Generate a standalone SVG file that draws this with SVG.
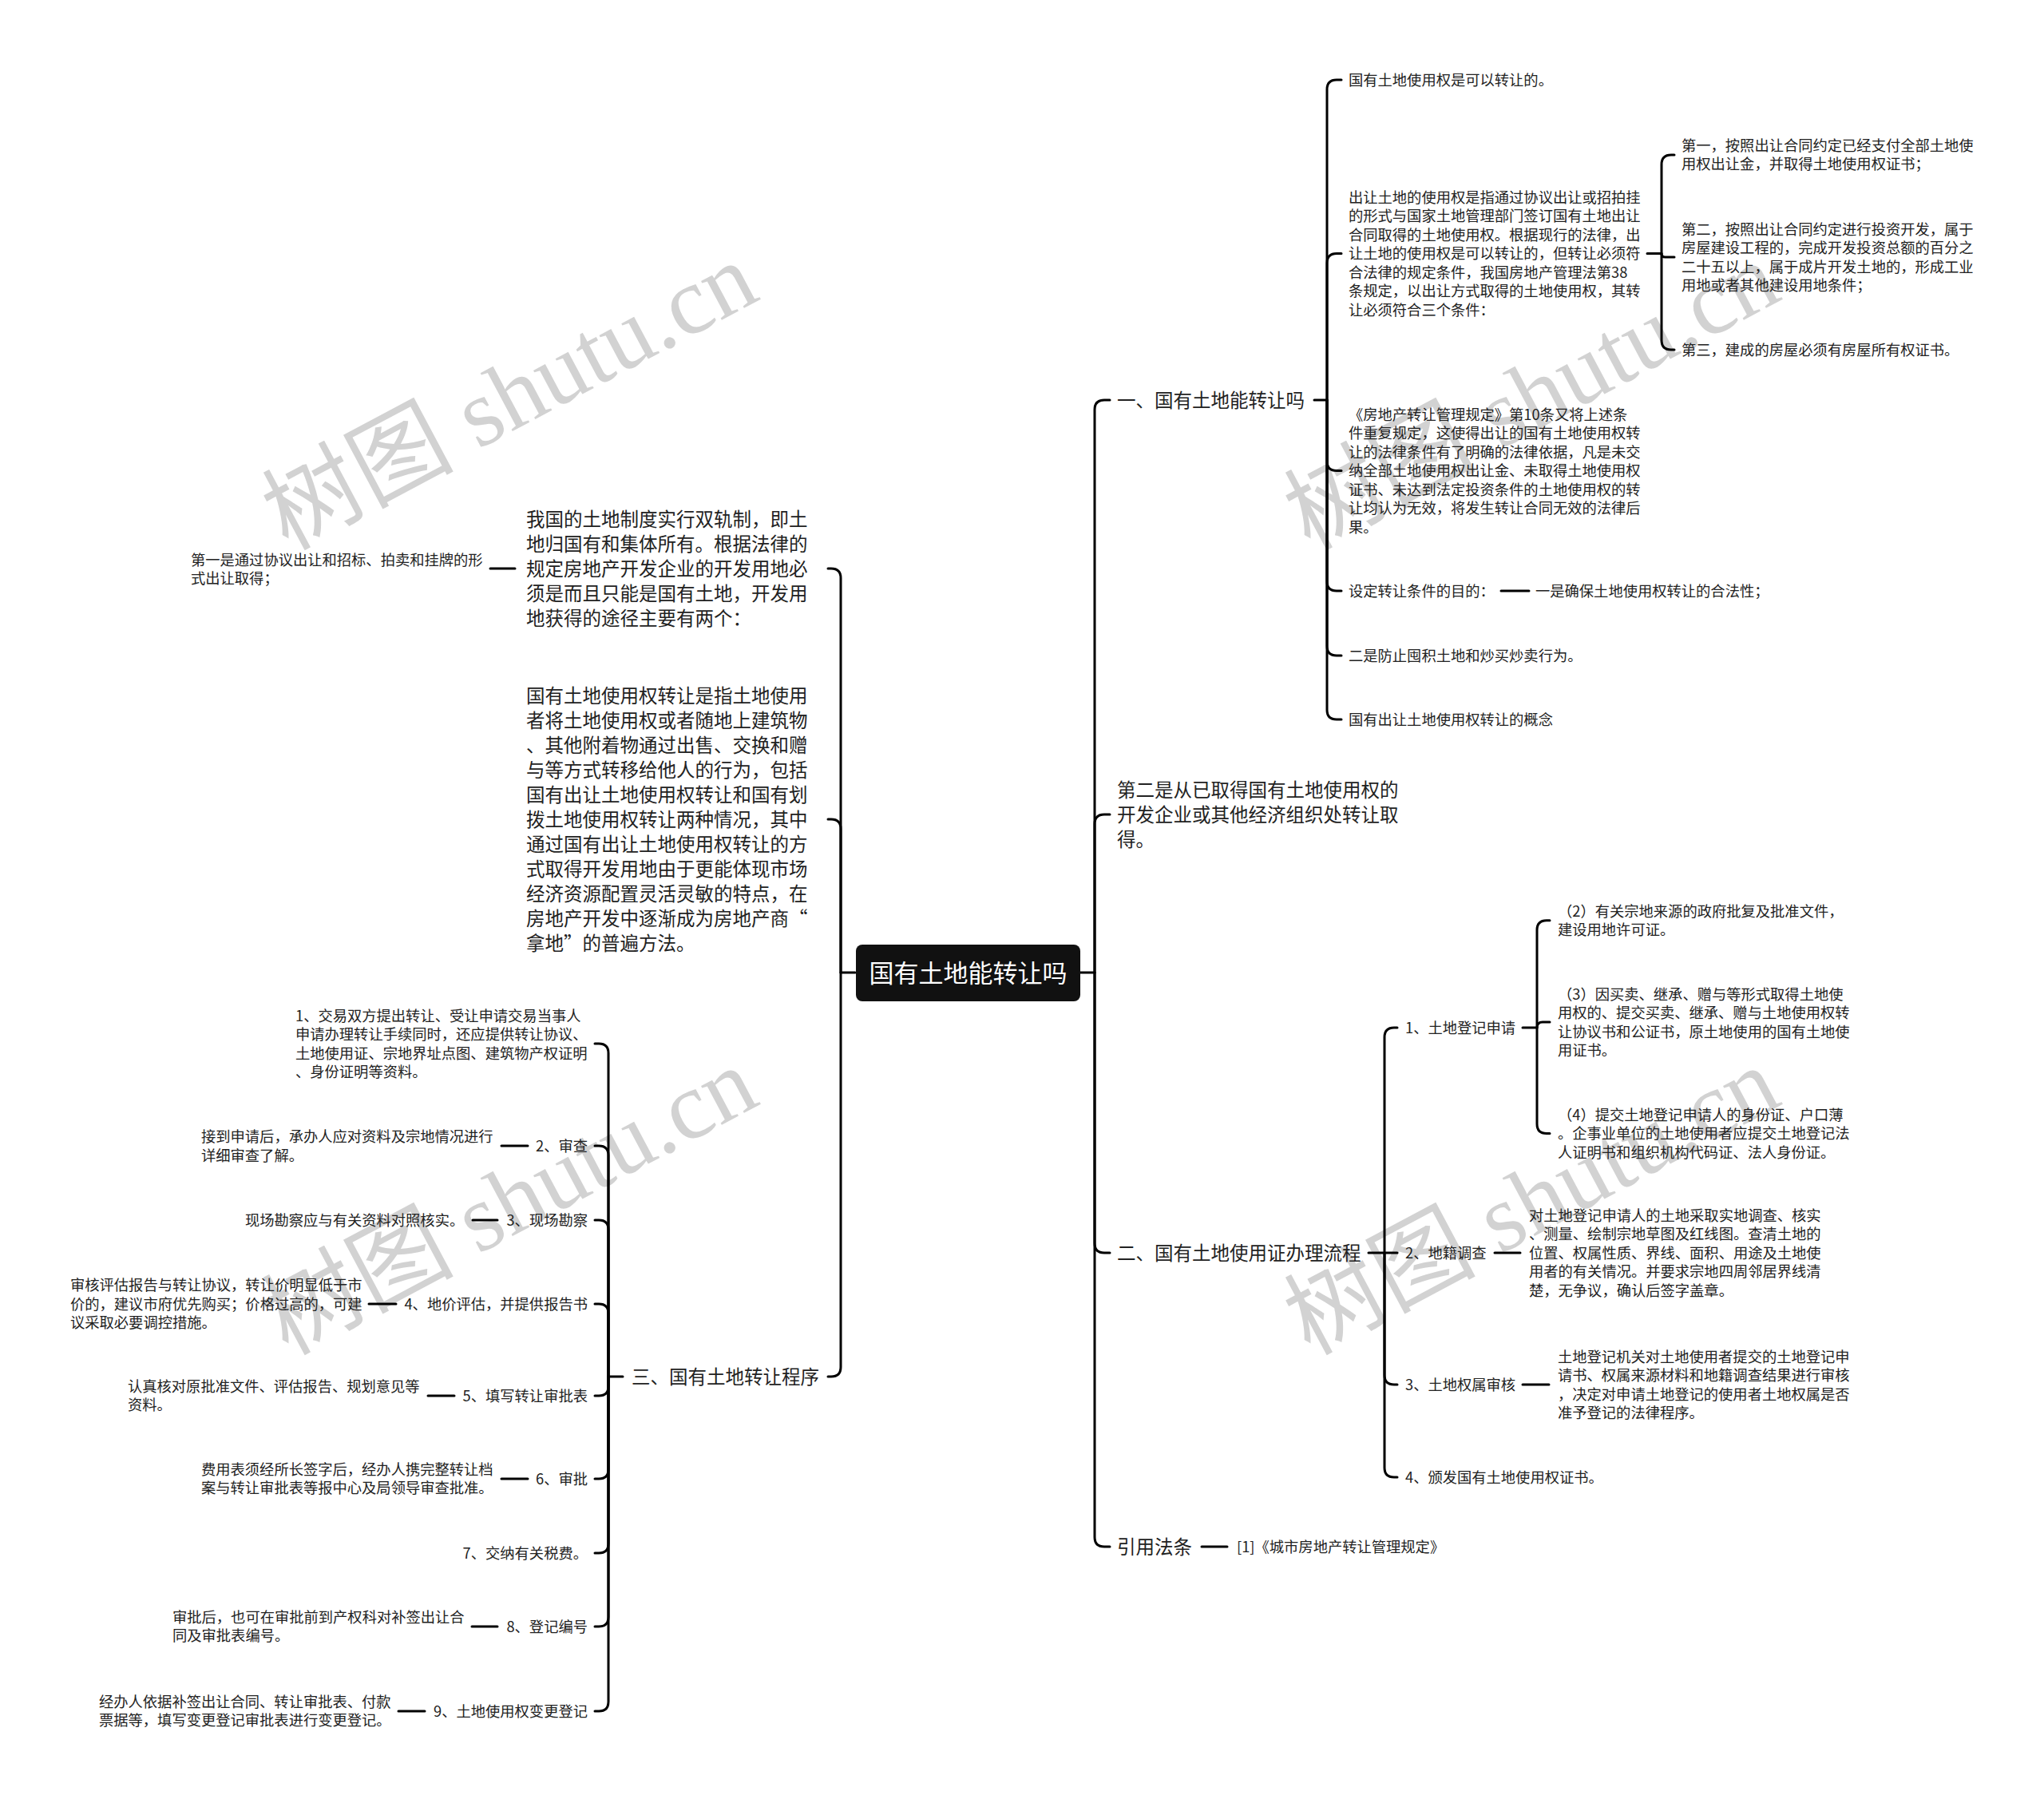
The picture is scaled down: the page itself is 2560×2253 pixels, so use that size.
<svg xmlns="http://www.w3.org/2000/svg" width="2560" height="2253" viewBox="0 0 2560 2253">
<style>
.wm{font-family:'Liberation Serif','Noto Sans CJK SC',serif;font-size:120px;fill:#d2d2d2}
.t{font-family:'Noto Sans CJK SC','Liberation Sans',sans-serif;fill:#222}
.s{font-size:18.3px}
.m{font-size:23.5px}
.r{font-size:31px;fill:#fff}
.e{text-anchor:end}
.c path,.c line{fill:none;stroke:#000;stroke-width:3;stroke-linecap:round;stroke-linejoin:round}
</style>
<rect width="2560" height="2253" fill="#fff"/>
<g id="watermarks">
<text class="wm" transform="translate(360,690) rotate(-28)">树图 shutu.cn</text>
<text class="wm" transform="translate(360,1698) rotate(-28)">树图 shutu.cn</text>
<text class="wm" transform="translate(1640,690) rotate(-28)">树图 shutu.cn</text>
<text class="wm" transform="translate(1640,1698) rotate(-28)">树图 shutu.cn</text>
</g>
<g id="connectors" class="c">
<path d="M1353,1218 H1371 V513 Q1371,501 1383,501 H1390"/>
<path d="M1371,1218 V1032 Q1371,1020 1383,1020 H1390"/>
<path d="M1371,1218 V1557 Q1371,1569 1383,1569 H1390"/>
<path d="M1371,1218 V1925 Q1371,1937 1383,1937 H1390"/>
<path d="M1646,501 H1662 V112 Q1662,100 1674,100 H1680"/>
<path d="M1662,501 V329.5 Q1662,317.5 1674,317.5 H1680"/>
<path d="M1662,501 V577.5 Q1662,589.5 1674,589.5 H1680"/>
<path d="M1662,501 V728 Q1662,740 1674,740 H1680"/>
<path d="M1662,501 V809 Q1662,821 1674,821 H1680"/>
<path d="M1662,501 V889 Q1662,901 1674,901 H1680"/>
<path d="M2063,317.5 H2081 V206 Q2081,194 2093,194 H2097"/>
<path d="M2081,317.5 Q2081,322 2085.5,322 H2097"/>
<path d="M2081,317.5 V426 Q2081,438 2093,438 H2097"/>
<path d="M1714,1569 H1734 V1299 Q1734,1287 1746,1287 H1750"/>
<path d="M1734,1569 H1750"/>
<path d="M1734,1569 V1722 Q1734,1734 1746,1734 H1750"/>
<path d="M1734,1569 V1838 Q1734,1850 1746,1850 H1750"/>
<path d="M1907,1287 H1925 V1164.75 Q1925,1152.75 1937,1152.75 H1941"/>
<path d="M1925,1287 Q1925,1280 1932,1280 H1941"/>
<path d="M1925,1287 V1407.5 Q1925,1419.5 1937,1419.5 H1941"/>
<path d="M1071,1218 H1053 V724 Q1053,712 1041,712 H1037"/>
<path d="M1053,1218 V1038 Q1053,1026 1041,1026 H1037"/>
<path d="M1053,1218 V1712 Q1053,1724 1041,1724 H1037"/>
<path d="M780,1724 H762 V1319 Q762,1307 750,1307 H745"/>
<path d="M762,1724 V1447 Q762,1435 750,1435 H745"/>
<path d="M762,1724 V1540 Q762,1528 750,1528 H745"/>
<path d="M762,1724 V1645 Q762,1633 750,1633 H745"/>
<path d="M762,1724 V1736 Q762,1748 750,1748 H745"/>
<path d="M762,1724 V1840 Q762,1852 750,1852 H745"/>
<path d="M762,1724 V1933 Q762,1945 750,1945 H745"/>
<path d="M762,1724 V2025 Q762,2037 750,2037 H745"/>
<path d="M762,1724 V2131 Q762,2143 750,2143 H745"/>
<line x1="614" y1="712" x2="645" y2="712"/>
<line x1="1880" y1="740" x2="1915" y2="740"/>
<line x1="1872" y1="1569" x2="1904" y2="1569"/>
<line x1="1907" y1="1734" x2="1940" y2="1734"/>
<line x1="1505" y1="1937" x2="1537" y2="1937"/>
<line x1="628" y1="1435" x2="661" y2="1435"/>
<line x1="592" y1="1528" x2="623" y2="1528"/>
<line x1="462" y1="1633" x2="496" y2="1633"/>
<line x1="536" y1="1748" x2="569" y2="1748"/>
<line x1="628" y1="1852" x2="661" y2="1852"/>
<line x1="591" y1="2037" x2="623" y2="2037"/>
<line x1="499" y1="2143" x2="532" y2="2143"/>
</g>
<g id="root">
<rect x="1072" y="1183" width="281" height="71" rx="8" fill="#111"/>
<text class="t r" x="1212.5" y="1229.5" text-anchor="middle">国有土地能转让吗</text>
</g>
<g id="n1"><text class="t m" x="1399" y="509.5">一、国有土地能转让吗</text></g>
<g id="n1a"><text class="t s" x="1689" y="106.5">国有土地使用权是可以转让的。</text></g>
<g id="n1b"><text class="t s">
<tspan x="1689" y="253.5">出让土地的使用权是指通过协议出让或招拍挂</tspan>
<tspan x="1689" y="277">的形式与国家土地管理部门签订国有土地出让</tspan>
<tspan x="1689" y="300.5">合同取得的土地使用权。根据现行的法律，出</tspan>
<tspan x="1689" y="324">让土地的使用权是可以转让的，但转让必须符</tspan>
<tspan x="1689" y="347.5">合法律的规定条件，我国房地产管理法第38</tspan>
<tspan x="1689" y="371">条规定，以出让方式取得的土地使用权，其转</tspan>
<tspan x="1689" y="394.5">让必须符合三个条件：</tspan></text></g>
<g id="n1b1"><text class="t s">
<tspan x="2106" y="188.5">第一，按照出让合同约定已经支付全部土地使</tspan>
<tspan x="2106" y="212">用权出让金，并取得土地使用权证书；</tspan></text></g>
<g id="n1b2"><text class="t s">
<tspan x="2106" y="293.5">第二，按照出让合同约定进行投资开发，属于</tspan>
<tspan x="2106" y="317">房屋建设工程的，完成开发投资总额的百分之</tspan>
<tspan x="2106" y="340.5">二十五以上，属于成片开发土地的，形成工业</tspan>
<tspan x="2106" y="364">用地或者其他建设用地条件；</tspan></text></g>
<g id="n1b3"><text class="t s" x="2106" y="444.5">第三，建成的房屋必须有房屋所有权证书。</text></g>
<g id="n1c"><text class="t s">
<tspan x="1689" y="525.5">《房地产转让管理规定》第10条又将上述条</tspan>
<tspan x="1689" y="549">件重复规定，这使得出让的国有土地使用权转</tspan>
<tspan x="1689" y="572.5">让的法律条件有了明确的法律依据，凡是未交</tspan>
<tspan x="1689" y="596">纳全部土地使用权出让金、未取得土地使用权</tspan>
<tspan x="1689" y="619.5">证书、未达到法定投资条件的土地使用权的转</tspan>
<tspan x="1689" y="643">让均认为无效，将发生转让合同无效的法律后</tspan>
<tspan x="1689" y="666.5">果。</tspan></text></g>
<g id="n1d"><text class="t s" x="1689" y="746.5">设定转让条件的目的：</text></g>
<g id="n1d1"><text class="t s" x="1923" y="746.5">一是确保土地使用权转让的合法性；</text></g>
<g id="n1e"><text class="t s" x="1689" y="827.5">二是防止囤积土地和炒买炒卖行为。</text></g>
<g id="n1f"><text class="t s" x="1689" y="907.5">国有出让土地使用权转让的概念</text></g>
<g id="n2"><text class="t m">
<tspan x="1399" y="997.5">第二是从已取得国有土地使用权的</tspan>
<tspan x="1399" y="1028.5">开发企业或其他经济组织处转让取</tspan>
<tspan x="1399" y="1059.5">得。</tspan></text></g>
<g id="n3"><text class="t m" x="1399" y="1577.5">二、国有土地使用证办理流程</text></g>
<g id="n3a"><text class="t s" x="1760" y="1293.5">1、土地登记申请</text></g>
<g id="n3a2"><text class="t s">
<tspan x="1951" y="1147.5">（2）有关宗地来源的政府批复及批准文件，</tspan>
<tspan x="1951" y="1171">建设用地许可证。</tspan></text></g>
<g id="n3a3"><text class="t s">
<tspan x="1951" y="1251.5">（3）因买卖、继承、赠与等形式取得土地使</tspan>
<tspan x="1951" y="1275">用权的、提交买卖、继承、赠与土地使用权转</tspan>
<tspan x="1951" y="1298.5">让协议书和公证书，原土地使用的国有土地使</tspan>
<tspan x="1951" y="1322">用证书。</tspan></text></g>
<g id="n3a4"><text class="t s">
<tspan x="1951" y="1402.5">（4）提交土地登记申请人的身份证、户口薄</tspan>
<tspan x="1951" y="1426">。企事业单位的土地使用者应提交土地登记法</tspan>
<tspan x="1951" y="1449.5">人证明书和组织机构代码证、法人身份证。</tspan></text></g>
<g id="n3b"><text class="t s" x="1760" y="1575.5">2、地籍调查</text></g>
<g id="n3b1"><text class="t s">
<tspan x="1915" y="1528.5">对土地登记申请人的土地采取实地调查、核实</tspan>
<tspan x="1915" y="1552">、测量、绘制宗地草图及红线图。查清土地的</tspan>
<tspan x="1915" y="1575.5">位置、权属性质、界线、面积、用途及土地使</tspan>
<tspan x="1915" y="1599">用者的有关情况。并要求宗地四周邻居界线清</tspan>
<tspan x="1915" y="1622.5">楚，无争议，确认后签字盖章。</tspan></text></g>
<g id="n3c"><text class="t s" x="1760" y="1740.5">3、土地权属审核</text></g>
<g id="n3c1"><text class="t s">
<tspan x="1951" y="1705.5">土地登记机关对土地使用者提交的土地登记申</tspan>
<tspan x="1951" y="1729">请书、权属来源材料和地籍调查结果进行审核</tspan>
<tspan x="1951" y="1752.5">，决定对申请土地登记的使用者土地权属是否</tspan>
<tspan x="1951" y="1776">准予登记的法律程序。</tspan></text></g>
<g id="n3d"><text class="t s" x="1760" y="1856.5">4、颁发国有土地使用权证书。</text></g>
<g id="n4"><text class="t m" x="1399" y="1945.5">引用法条</text></g>
<g id="n4a"><text class="t s" x="1549" y="1943.5">[1]《城市房地产转让管理规定》</text></g>
<g id="l1"><text class="t m">
<tspan x="659" y="658.5">我国的土地制度实行双轨制，即土</tspan>
<tspan x="659" y="689.5">地归国有和集体所有。根据法律的</tspan>
<tspan x="659" y="720.5">规定房地产开发企业的开发用地必</tspan>
<tspan x="659" y="751.5">须是而且只能是国有土地，开发用</tspan>
<tspan x="659" y="782.5">地获得的途径主要有两个：</tspan></text></g>
<g id="l1a"><text class="t s">
<tspan x="239" y="707.5">第一是通过协议出让和招标、拍卖和挂牌的形</tspan>
<tspan x="239" y="730.5">式出让取得；</tspan></text></g>
<g id="l2"><text class="t m">
<tspan x="659" y="879.5">国有土地使用权转让是指土地使用</tspan>
<tspan x="659" y="910.5">者将土地使用权或者随地上建筑物</tspan>
<tspan x="659" y="941.5">、其他附着物通过出售、交换和赠</tspan>
<tspan x="659" y="972.5">与等方式转移给他人的行为，包括</tspan>
<tspan x="659" y="1003.5">国有出让土地使用权转让和国有划</tspan>
<tspan x="659" y="1034.5">拨土地使用权转让两种情况，其中</tspan>
<tspan x="659" y="1065.5">通过国有出让土地使用权转让的方</tspan>
<tspan x="659" y="1096.5">式取得开发用地由于更能体现市场</tspan>
<tspan x="659" y="1127.5">经济资源配置灵活灵敏的特点，在</tspan>
<tspan x="659" y="1158.5">房地产开发中逐渐成为房地产商“</tspan>
<tspan x="659" y="1189.5">拿地”的普遍方法。</tspan></text></g>
<g id="l3"><text class="t m" x="791" y="1732.5">三、国有土地转让程序</text></g>
<g id="l3-1"><text class="t s">
<tspan x="370" y="1278.5">1、交易双方提出转让、受让申请交易当事人</tspan>
<tspan x="370" y="1302">申请办理转让手续同时，还应提供转让协议、</tspan>
<tspan x="370" y="1325.5">土地使用证、宗地界址点图、建筑物产权证明</tspan>
<tspan x="370" y="1349">、身份证明等资料。</tspan></text></g>
<g id="l3-2"><text class="t s e" x="736" y="1441.5">2、审查</text></g>
<g id="l3-2a"><text class="t s">
<tspan x="252" y="1430">接到申请后，承办人应对资料及宗地情况进行</tspan>
<tspan x="252" y="1453.5">详细审查了解。</tspan></text></g>
<g id="l3-3"><text class="t s e" x="736" y="1534.5">3、现场勘察</text></g>
<g id="l3-3a"><text class="t s" x="307" y="1534.5">现场勘察应与有关资料对照核实。</text></g>
<g id="l3-4"><text class="t s e" x="736" y="1639.5">4、地价评估，并提供报告书</text></g>
<g id="l3-4a"><text class="t s">
<tspan x="88" y="1616">审核评估报告与转让协议，转让价明显低于市</tspan>
<tspan x="88" y="1639.5">价的，建议市府优先购买；价格过高的，可建</tspan>
<tspan x="88" y="1663">议采取必要调控措施。</tspan></text></g>
<g id="l3-5"><text class="t s e" x="736" y="1754.5">5、填写转让审批表</text></g>
<g id="l3-5a"><text class="t s">
<tspan x="160" y="1742.5">认真核对原批准文件、评估报告、规划意见等</tspan>
<tspan x="160" y="1766">资料。</tspan></text></g>
<g id="l3-6"><text class="t s e" x="736" y="1858.5">6、审批</text></g>
<g id="l3-6a"><text class="t s">
<tspan x="252" y="1846.5">费用表须经所长签字后，经办人携完整转让档</tspan>
<tspan x="252" y="1870">案与转让审批表等报中心及局领导审查批准。</tspan></text></g>
<g id="l3-7"><text class="t s e" x="736" y="1951.5">7、交纳有关税费。</text></g>
<g id="l3-8"><text class="t s e" x="736" y="2043.5">8、登记编号</text></g>
<g id="l3-8a"><text class="t s">
<tspan x="216" y="2031.5">审批后，也可在审批前到产权科对补签出让合</tspan>
<tspan x="216" y="2055">同及审批表编号。</tspan></text></g>
<g id="l3-9"><text class="t s e" x="736" y="2149.5">9、土地使用权变更登记</text></g>
<g id="l3-9a"><text class="t s">
<tspan x="124" y="2137.5">经办人依据补签出让合同、转让审批表、付款</tspan>
<tspan x="124" y="2161">票据等，填写变更登记审批表进行变更登记。</tspan></text></g>
</svg>
